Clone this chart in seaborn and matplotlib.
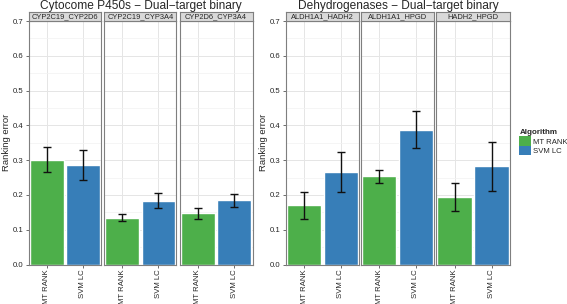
import numpy as np
import pandas as pd
import matplotlib
matplotlib.use("Agg")
import matplotlib.pyplot as plt
import seaborn as sns
from matplotlib.patches import Patch

# data
algorithms = ["MT RANK", "SVM LC"]
group_titles = ["Cytocome P450s \u2212 Dual\u2212target binary",
                "Dehydrogenases \u2212 Dual\u2212target binary"]
pairs_left = ["CYP2C19_CYP2D6", "CYP2C19_CYP3A4", "CYP2D6_CYP3A4"]
pairs_right = ["ALDH1A1_HADH2", "ALDH1A1_HPGD", "HADH2_HPGD"]

# mean ranking error, one value per (pair, algorithm)
mean_left = [[0.301, 0.287], [0.135, 0.183], [0.147, 0.185]]
low_left = [[0.266, 0.244], [0.126, 0.162], [0.132, 0.164]]
high_left = [[0.337, 0.328], [0.145, 0.205], [0.163, 0.204]]

mean_right = [[0.170, 0.265], [0.254, 0.388], [0.194, 0.282]]
low_right = [[0.130, 0.207], [0.233, 0.334], [0.153, 0.212]]
high_right = [[0.208, 0.324], [0.273, 0.440], [0.235, 0.352]]

colors = {"MT RANK": "#4daf4a", "SVM LC": "#377eb8"}

rows = []
for pairs, means, lows, highs, g in [(pairs_left, mean_left, low_left, high_left, 0),
                                     (pairs_right, mean_right, low_right, high_right, 1)]:
    for i, p in enumerate(pairs):
        for j, a in enumerate(algorithms):
            rows.append(dict(group=g, pair=p, algorithm=a, error=means[i][j],
                             lo=lows[i][j], hi=highs[i][j]))
df = pd.DataFrame(rows)

sns.set_style("white")
plt.rcParams["font.family"] = ["Liberation Sans", "DejaVu Sans"]

W, H = 567, 304
fig = plt.figure(figsize=(W / 100, H / 100), dpi=100)

def px(x0, y0, x1, y1):
    return [x0 / W, 1 - y1 / H, (x1 - x0) / W, (y1 - y0) / H]

panel_x = [[(29, 101), (104, 176.5), (179.5, 252.5)],
           [(286, 359), (361, 434), (436, 510)]]
top, bottom = 21, 264.5
strip_top = 11.5
fs_tick = 5.6

for g in range(2):
    pairs = [pairs_left, pairs_right][g]
    for k, p in enumerate(pairs):
        x0, x1 = panel_x[g][k]
        ax = fig.add_axes(px(x0, top, x1, bottom))
        sub = df[(df.group == g) & (df.pair == p)]
        ax.set_axisbelow(True)
        sns.barplot(data=sub, x="algorithm", y="error", hue="algorithm",
                    palette=colors, width=0.93, legend=False, ax=ax,
                    errorbar=None, saturation=1)
        xs = np.arange(len(sub))
        ax.errorbar(xs, sub["error"], yerr=[sub["error"] - sub["lo"], sub["hi"] - sub["error"]],
                    fmt="none", ecolor="#111111", elinewidth=1.0, capsize=3.2, capthick=1.0)
        ax.set_ylim(0, 0.7)
        ax.set_xlim(-0.5, 1.5)
        ax.set_yticks(np.arange(0, 0.71, 0.1))
        ax.set_yticks(np.arange(0.05, 0.7, 0.1), minor=True)
        ax.grid(True, which="major", color="#e5e5e5", lw=0.7)
        ax.grid(True, which="minor", axis="y", color="#f2f2f2", lw=0.5)
        ax.set_xlabel("")
        ax.set_ylabel("")
        ax.tick_params(axis="x", labelrotation=90, labelsize=fs_tick, length=2.5,
                       width=0.6, color="#555555", pad=1.2, bottom=True)
        if k == 0:
            ax.tick_params(axis="y", labelsize=fs_tick, length=2.5, width=0.6,
                           color="#555555", pad=1.5, left=True)
            ax.set_yticklabels([f"{v:.1f}" for v in np.arange(0, 0.71, 0.1)])
            ax.set_ylabel("Ranking error", fontsize=6.8, labelpad=1)
        else:
            ax.tick_params(axis="y", left=False, labelleft=False)
        for s in ax.spines.values():
            s.set_color("#7f7f7f")
            s.set_linewidth(0.8)
        # facet strip
        sax = fig.add_axes(px(x0, strip_top, x1, top))
        sax.set_facecolor("#d9d9d9")
        sax.set_xticks([])
        sax.set_yticks([])
        for s in sax.spines.values():
            s.set_color("#7f7f7f")
            s.set_linewidth(0.8)
        sax.text(0.5, 0.45, p, ha="center", va="center", fontsize=5.4,
                 transform=sax.transAxes)
    cx = (panel_x[g][0][0] + panel_x[g][2][1]) / 2
    fig.text(cx / W, 1 - 5.5 / H, group_titles[g], ha="center", va="center", fontsize=8.6)

handles = [Patch(facecolor=colors[a], edgecolor="none", label=a) for a in algorithms]
leg = fig.legend(handles=handles, title="Algorithm", loc="upper left",
                 bbox_to_anchor=(514 / W, 1 - 124 / H), frameon=False,
                 fontsize=5.6, title_fontproperties={"weight": "bold", "size": 5.8},
                 handlelength=1.5, handleheight=1.5, handletextpad=0.3,
                 labelspacing=0.0, borderpad=0.2)
leg._legend_box.align = "left"

fig.savefig("out.png", dpi=100)
